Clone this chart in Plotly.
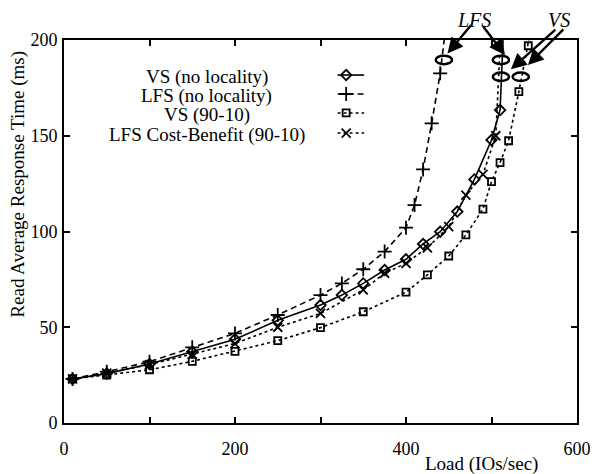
import plotly.graph_objects as go

# ---- data ----
vs_nl_x = [10, 50, 100, 150, 200, 250, 300, 325, 350, 375, 400, 420, 440, 460, 480, 500, 510, 515]
vs_nl_y = [23, 25.8, 30.8, 37.2, 43.7, 53.6, 61.6, 66.8, 72.9, 79.9, 85.5, 93.5, 99.9, 110.4, 127.2, 147.8, 163.4, 215]

lfs_nl_x = [10, 50, 100, 150, 200, 250, 300, 325, 350, 375, 400, 410, 420, 430, 440, 450]
lfs_nl_y = [23, 26.8, 32, 39.5, 46.8, 56.4, 66.8, 72.9, 80.3, 89.5, 102, 113.8, 132.4, 156.5, 182.6, 220]

vs_9010_x = [10, 50, 100, 150, 200, 250, 300, 350, 400, 425, 450, 470, 490, 500, 510, 520, 532, 543, 550]
vs_9010_y = [23, 25, 27.8, 32.2, 37.4, 43, 49.8, 58.1, 68.3, 77.3, 87.2, 98.2, 111.7, 126, 136, 147.4, 173, 197, 215]

lfs_cb_x = [10, 50, 100, 150, 200, 250, 300, 350, 375, 400, 425, 450, 470, 490, 505, 512]
lfs_cb_y = [23, 26, 30.5, 35.8, 41.5, 50, 57.2, 69.5, 78.2, 83.4, 91.5, 102.5, 119, 129.8, 150, 215]

legend_labels = ["VS (no locality)", "LFS (no locality)", "VS (90-10)", "LFS Cost-Benefit (90-10)"]

# saturation markers (ellipses) : centers in data units
ell_x = [444.3, 511, 511, 534.2]
ell_y = [189.6, 189.6, 180.8, 180.8]

x_tickvals = [0, 100, 200, 300, 400, 500, 600]
x_ticktext = ["0", "", "200", "", "400", "", "600"]
y_tickvals = [0, 50, 100, 150, 200]

FONT = "Liberation Serif, Times New Roman, serif"

styles = [
    dict(dash="solid", symbol="diamond-open", size=8),
    dict(dash="6px,4px", symbol="cross-thin-open", size=10),
    dict(dash="dot", symbol="square-open", size=7),
    dict(dash="dot", symbol="x-thin-open", size=9),
]
series = [(vs_nl_x, vs_nl_y), (lfs_nl_x, lfs_nl_y), (vs_9010_x, vs_9010_y), (lfs_cb_x, lfs_cb_y)]

fig = go.Figure()
for (xs, ys), st in zip(series, styles):
    fig.add_trace(go.Scatter(
        x=xs, y=ys, mode="lines+markers",
        line=dict(color="black", width=1.6, dash=st["dash"]),
        marker=dict(symbol=st["symbol"], size=st["size"], color="black",
                    line=dict(color="black", width=1.8)),
        cliponaxis=True, showlegend=False,
    ))

# manual legend (text left, sample right)
leg_y = [181.7, 171.8, 161.9, 151.4]
for i, st in enumerate(styles):
    fig.add_trace(go.Scatter(
        x=[320, 351], y=[leg_y[i], leg_y[i]], mode="lines",
        line=dict(color="black", width=1.6, dash=st["dash"]),
        showlegend=False, hoverinfo="skip"))
    fig.add_trace(go.Scatter(
        x=[330], y=[leg_y[i]], mode="markers",
        marker=dict(symbol=st["symbol"], size=st["size"], color="black",
                    line=dict(color="black", width=1.8)),
        showlegend=False, hoverinfo="skip"))
    fig.add_annotation(x=167, y=leg_y[i] - 1.2, xref="x", yref="y", text=legend_labels[i],
                       showarrow=False, xanchor="center", yanchor="middle",
                       font=dict(family=FONT, size=19, color="black"))

# ellipses
for cx, cy in zip(ell_x, ell_y):
    fig.add_shape(type="circle", xref="x", yref="y",
                  x0=cx - 9.5, x1=cx + 9.5, y0=cy - 2.2, y1=cy + 2.2,
                  line=dict(color="black", width=2.5))

# arrows
arrows = [
    (448.5, 193, 25, -30),
    (515.8, 192.2, -23, -30),
    (522.7, 184.7, 46, -41),
    (542.6, 187, 37, -37),
]
for ax_x, ax_y, dx, dy in arrows:
    fig.add_annotation(x=ax_x, y=ax_y, xref="x", yref="y", ax=dx, ay=dy,
                       showarrow=True, arrowhead=2, arrowsize=1.3, arrowwidth=2.4,
                       arrowcolor="black", text="")

fig.add_annotation(x=0.80, y=1.052, xref="paper", yref="paper", text="<i>LFS</i>",
                   showarrow=False, xanchor="center", yanchor="middle",
                   font=dict(family=FONT, size=20, color="black"))
fig.add_annotation(x=0.965, y=1.052, xref="paper", yref="paper", text="<i>VS</i>",
                   showarrow=False, xanchor="center", yanchor="middle",
                   font=dict(family=FONT, size=20, color="black"))

# axis titles
fig.add_annotation(x=0.8135, y=-0.107, xref="paper", yref="paper", text="Load (IOs/sec)",
                   showarrow=False, yanchor="middle", xanchor="center",
                   font=dict(family=FONT, size=19, color="black"))
fig.add_annotation(x=-0.0904, y=0.624, xref="paper", yref="paper",
                   text="Read Average Response Time (ms)", showarrow=False, textangle=-90,
                   xanchor="center", yanchor="middle",
                   font=dict(family=FONT, size=19, color="black"))

axis_common = dict(showline=True, linecolor="black", linewidth=2, mirror="ticks",
                   ticks="inside", ticklen=6, tickwidth=1.5, tickcolor="black",
                   showgrid=False, zeroline=False,
                   tickfont=dict(family=FONT, size=18, color="black"))
fig.update_xaxes(range=[0, 600], tickvals=x_tickvals, ticktext=x_ticktext,
                 ticklabelstandoff=8, **axis_common)
fig.update_yaxes(range=[0, 200], tickvals=y_tickvals, ticklabelstandoff=1, **axis_common)

fig.update_layout(width=603, height=474, margin=dict(l=64, r=19, t=40, b=51),
                  paper_bgcolor="white", plot_bgcolor="white", showlegend=False)

fig.write_html("out.html", config={"displayModeBar": False},
               post_script="document.body.style.margin='0';document.body.style.padding='0';")
